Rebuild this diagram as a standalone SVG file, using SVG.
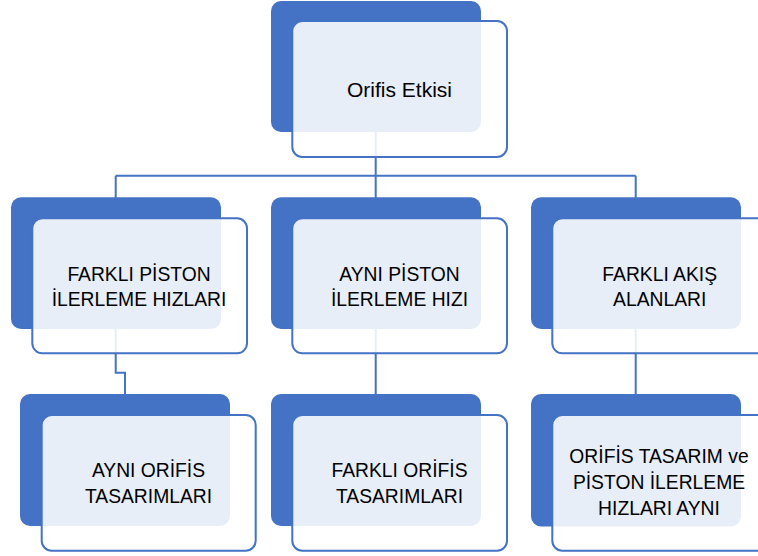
<svg xmlns="http://www.w3.org/2000/svg" width="758" height="556" viewBox="0 0 758 556">
<style>
.back{fill:#4472C4;}
.front{fill:#FFFFFF;fill-opacity:0.88;stroke:#4472C4;stroke-width:2;}
.conn{fill:none;stroke:#4472C4;stroke-width:2;}
text{font-family:"Liberation Sans",Arial,sans-serif;font-size:19.3px;fill:#000;text-anchor:middle;}
</style>
<rect width="758" height="556" fill="#FFFFFF"/>
<g id="connectors">
<path class="conn" d="M375.7,132 V175.7 M115.7,175.7 H635.7 M115.7,175.7 V198 M375.7,175.7 V198 M635.7,175.7 V198"/>
<path class="conn" d="M115.7,329 V372.7 H125 V394"/>
<path class="conn" d="M375.7,329 V394"/>
<path class="conn" d="M635.7,329 V394"/>
</g>
<g id="node-root">
<rect class="back" x="271" y="1" width="210" height="131" rx="10"/>
<rect class="front" x="292.3" y="21" width="214.7" height="136" rx="10"/>
<text x="399.5" y="96.5" style="font-size:21px">Orifis Etkisi</text>
</g>
<g id="node-farkli-piston">
<rect class="back" x="11" y="197.3" width="210" height="131.7" rx="10"/>
<rect class="front" x="32.3" y="218.3" width="214.7" height="135" rx="10"/>
<text x="139" y="280.7">FARKLI PİSTON</text>
<text x="139" y="306">İLERLEME HIZLARI</text>
</g>
<g id="node-ayni-piston">
<rect class="back" x="271" y="197.3" width="210" height="131.7" rx="10"/>
<rect class="front" x="292.3" y="218.3" width="214.7" height="135" rx="10"/>
<text x="399.5" y="280.7">AYNI PİSTON</text>
<text x="399.5" y="306">İLERLEME HIZI</text>
</g>
<g id="node-farkli-akis">
<rect class="back" x="531" y="197.3" width="210" height="131.7" rx="10"/>
<rect class="front" x="552.3" y="218.3" width="214.7" height="135" rx="10"/>
<text x="659.7" y="280.7">FARKLI AKIŞ</text>
<text x="659.7" y="306">ALANLARI</text>
</g>
<g id="node-ayni-orifis">
<rect class="back" x="20" y="394" width="210" height="132" rx="10"/>
<rect class="front" x="41.7" y="415" width="214" height="135.7" rx="10"/>
<text x="148.5" y="477.3">AYNI ORİFİS</text>
<text x="148.5" y="503">TASARIMLARI</text>
</g>
<g id="node-farkli-orifis">
<rect class="back" x="271" y="394" width="210" height="132" rx="10"/>
<rect class="front" x="292.3" y="415" width="214.7" height="135.7" rx="10"/>
<text x="399.5" y="477.3">FARKLI ORİFİS</text>
<text x="399.5" y="503">TASARIMLARI</text>
</g>
<g id="node-orifis-tasarim">
<rect class="back" x="531" y="394" width="210" height="132.5" rx="10"/>
<rect class="front" x="552.3" y="415" width="214.7" height="135.7" rx="10"/>
<text x="659" y="462.7">ORİFİS TASARIM ve</text>
<text x="659" y="489">PİSTON İLERLEME</text>
<text x="659" y="515">HIZLARI AYNI</text>
</g>
</svg>
